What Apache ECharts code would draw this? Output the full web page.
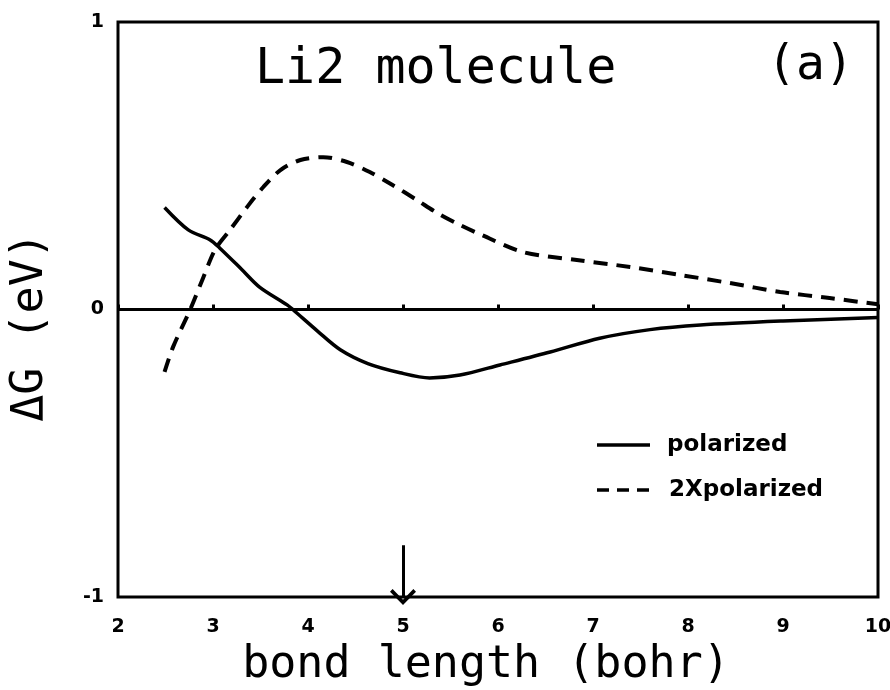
<!DOCTYPE html>
<html>
<head>
<meta charset="utf-8">
<script src="https://cdn.jsdelivr.net/npm/echarts@6/dist/echarts.min.js"></script>
<style>
  html, body { margin: 0; padding: 0; background: #fff; }
  #chart { width: 890px; height: 690px; }
</style>
</head>
<body>
<div id="chart"></div>
<script>
// Bond length (bohr) and free-energy difference ΔG (eV) for Li2
const polarizedX = [2.49, 2.74, 2.97, 3.07, 3.30, 3.49, 3.78, 3.84, 4.10, 4.34, 4.63, 4.97, 5.28, 5.60, 6.02, 6.55, 7.07, 7.60, 8.13, 9.00, 10.0];
const polarizedY = [0.355, 0.277, 0.242, 0.214, 0.140, 0.078, 0.016, 0.0, -0.075, -0.140, -0.188, -0.220, -0.238, -0.228, -0.193, -0.148, -0.100, -0.070, -0.054, -0.040, -0.028];

const doubleX = [2.49, 2.58, 2.76, 2.90, 3.02, 3.18, 3.36, 3.53, 3.71, 3.92, 4.16, 4.41, 4.65, 4.89, 5.15, 5.36, 5.60, 5.83, 6.26, 6.83, 7.39, 7.92, 8.44, 8.97, 9.49, 10.0];
const doubleY = [-0.217, -0.130, 0.0, 0.113, 0.207, 0.277, 0.357, 0.426, 0.485, 0.520, 0.530, 0.513, 0.478, 0.433, 0.380, 0.336, 0.294, 0.259, 0.200, 0.172, 0.148, 0.120, 0.092, 0.061, 0.040, 0.018];

const xTicks = [2, 3, 4, 5, 6, 7, 8, 9, 10];
const yTicks = [-1, 0, 1];
const equilibriumBond = 5;

const seriesNames = ['polarized', '2Xpolarized'];

const zip = (xs, ys) => xs.map((x, i) => [x, ys[i]]);

const chart = echarts.init(document.getElementById('chart'));
const monoFont = '"DejaVu Sans Mono", "Liberation Mono", monospace';
const boldFont = { fontFamily: 'DejaVu Sans', fontWeight: 'bold', fill: '#000' };

// open chevron arrow head (tip at top, rotated along the line by ECharts)
const chevron = 'path://M0,10 L10,0 L20,10 L18,12 L10,4 L2,12 Z';

chart.setOption({
  animation: false,
  backgroundColor: '#fff',
  grid: {
    left: 118, right: 12, top: 22, bottom: 93,
    outerBoundsMode: 'none',
    containLabel: false,
    show: true, borderColor: '#000', borderWidth: 3, backgroundColor: 'transparent'
  },
  title: [
    { text: 'Li2 molecule', left: 250, top: 40,
      textStyle: { fontFamily: monoFont, fontWeight: 'normal', fontSize: 50, color: '#000' } },
    { text: '(a)', left: 762, top: 38,
      textStyle: { fontFamily: monoFont, fontWeight: 'normal', fontSize: 48, color: '#000' } }
  ],
  xAxis: {
    type: 'value', min: 2, max: 10, interval: 1,
    name: 'bond length (bohr)', nameLocation: 'middle', nameGap: 46,
    nameTextStyle: { fontFamily: monoFont, fontSize: 45, color: '#000', padding: [0, 24, 0, 0] },
    axisLine: { show: false },
    axisTick: { show: true, inside: true, length: 5, lineStyle: { color: '#000', width: 3 } },
    axisLabel: { margin: 21, fontFamily: 'DejaVu Sans', fontWeight: 'bold', fontSize: 19, color: '#000',
      formatter: v => xTicks.includes(v) ? String(v) : '' },
    splitLine: { show: false }
  },
  yAxis: {
    type: 'value', min: -1, max: 1, interval: 1,
    axisLine: { show: false },
    axisTick: { show: false },
    axisLabel: { margin: 14, fontFamily: 'DejaVu Sans', fontWeight: 'bold', fontSize: 19, color: '#000',
      formatter: v => yTicks.includes(v) ? String(v) : '' },
    splitLine: { show: false }
  },
  graphic: [
    // y-axis title
    { type: 'text', x: 30, y: 327, rotation: Math.PI / 2,
      style: { text: 'ΔG (eV)', fontFamily: monoFont, fontSize: 45, fill: '#000', align: 'center', verticalAlign: 'middle' } },
    // key
    { type: 'line', shape: { x1: 597, y1: 445, x2: 650, y2: 445 }, style: { stroke: '#000', lineWidth: 3.5 } },
    { type: 'text', x: 667, y: 445, style: Object.assign({ text: seriesNames[0], fontSize: 23, verticalAlign: 'middle' }, boldFont) },
    { type: 'line', shape: { x1: 597, y1: 490, x2: 652, y2: 490 }, style: { stroke: '#000', lineWidth: 3.5, lineDash: [12, 8] } },
    { type: 'text', x: 669, y: 490, style: Object.assign({ text: seriesNames[1], fontSize: 23, verticalAlign: 'middle' }, boldFont) }
  ],
  series: [
    {
      name: seriesNames[0], type: 'line', data: zip(polarizedX, polarizedY),
      smooth: 0.3, symbol: 'none',
      lineStyle: { color: '#000', width: 3.5 },
      itemStyle: { color: '#000' },
      markLine: {
        silent: true, animation: false,
        label: { show: false },
        data: [
          [{ coord: [2, 0], symbol: 'none' }, { coord: [10, 0], symbol: 'none' }]
        ],
        lineStyle: { color: '#000', width: 3, type: 'solid' }
      }
    },
    {
      name: seriesNames[1], type: 'line', data: zip(doubleX, doubleY),
      smooth: 0.3, symbol: 'none',
      lineStyle: { color: '#000', width: 4, type: [14, 9] },
      itemStyle: { color: '#000' },
      markLine: {
        silent: true, animation: false,
        label: { show: false },
        symbolSize: [26, 16],
        data: [
          [{ coord: [equilibriumBond, -0.82], symbol: 'none' },
           { coord: [equilibriumBond, -1], symbol: chevron, symbolOffset: [0, 0] }]
        ],
        lineStyle: { color: '#000', width: 3, type: 'solid' }
      }
    }
  ]
});
</script>
</body>
</html>
